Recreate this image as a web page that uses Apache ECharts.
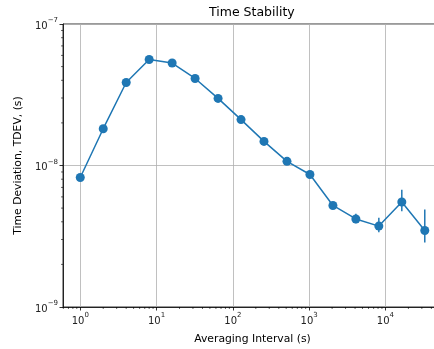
<!DOCTYPE html>
<html><head><meta charset="utf-8">
<script src="https://cdn.jsdelivr.net/npm/echarts@6/dist/echarts.min.js"></script>
<style>html,body{margin:0;padding:0;background:#fff}#c{width:434px;height:349px}</style>
</head><body><div id="c"></div>
<script>
const tau = [1, 2, 4, 8, 16, 32, 64, 128, 256, 512, 1024, 2048, 4096, 8192, 16384, 32768];
const tdev = [8.22e-9, 1.82e-8, 3.86e-8, 5.61e-8, 5.30e-8, 4.12e-8, 2.98e-8, 2.11e-8, 1.48e-8, 1.07e-8, 8.64e-9, 5.22e-9, 4.19e-9, 3.73e-9, 5.52e-9, 3.47e-9];
const tdevLow = [null, null, null, null, null, null, null, null, null, null, null, 5.0e-9, 3.91e-9, 3.38e-9, 4.75e-9, 2.86e-9];
const tdevHigh = [null, null, null, null, null, null, null, null, null, null, null, 5.45e-9, 4.56e-9, 4.27e-9, 6.73e-9, 4.89e-9];
const xMin = 0.594, xMax = 55100, yMin = 1e-9, yMax = 1e-7;
const xMinorTicks = [0.6, 0.7, 0.8, 0.9, 2, 3, 4, 5, 6, 7, 8, 9, 20, 30, 40, 50, 60, 70, 80, 90, 200, 300, 400, 500, 600, 700, 800, 900, 2000, 3000, 4000, 5000, 6000, 7000, 8000, 9000, 20000, 30000, 40000, 50000];
const yMinorTicks = [2e-9, 3e-9, 4e-9, 5e-9, 6e-9, 7e-9, 8e-9, 9e-9, 2e-8, 3e-8, 4e-8, 5e-8, 6e-8, 7e-8, 8e-8, 9e-8];

const FONT = 'DejaVu Sans';
const C = '#1f77b4';
function powLabel(v) {
  const e = Math.round(Math.log10(v));
  if (Math.abs(v / Math.pow(10, e) - 1) > 1e-6) return '';
  return '{b|10}{s|' + String(e).replace('-', '\u2212') + '}';
}
const rich = {
  b: {fontFamily: FONT, fontSize: 10, color: '#222', verticalAlign: 'bottom', lineHeight: 14},
  s: {fontFamily: FONT, fontSize: 7, color: '#222', verticalAlign: 'top', lineHeight: 14, padding: [0, 0, 7, 0]}
};

const chart = echarts.init(document.getElementById('c'), null, {renderer: 'canvas'});
const mainData = tau.map((t, i) => [t, tdev[i]]);
const errData = [];
tau.forEach((t, i) => { if (tdevLow[i] != null) errData.push([t, tdevLow[i], tdevHigh[i]]); });

chart.setOption({
  animation: false,
  backgroundColor: '#fff',
  title: {
    text: 'Time Stability', left: 204, top: 1,
    textStyle: {fontFamily: FONT, fontSize: 12.5, fontWeight: 'normal', color: '#000'}
  },
  grid: {left: 63, top: 24, width: 379, height: 283, containLabel: false, outerBoundsMode: 'none', show: true, borderColor: '#000', borderWidth: 0.8, backgroundColor: 'transparent'},
  xAxis: {
    type: 'log', logBase: 10, min: xMin, max: xMax,
    name: 'Averaging Interval (s)', nameLocation: 'middle', nameGap: 27,
    nameTextStyle: {fontFamily: FONT, fontSize: 10.8, color: '#000'},
    axisLine: {show: true, onZero: false, lineStyle: {color: '#000', width: 0.8}},
    axisTick: {show: true, length: 3.5, lineStyle: {color: '#000', width: 0.8}},
    axisLabel: {formatter: powLabel, rich: rich, margin: 5, showMinLabel: false, showMaxLabel: false},
    splitLine: {show: true, lineStyle: {color: '#b0b0b0', width: 0.8}},
    minorTick: {show: false}
  },
  yAxis: {
    type: 'log', logBase: 10, min: yMin, max: yMax,
    name: 'Time Deviation, TDEV, (s)', nameLocation: 'middle', nameGap: 38,
    nameTextStyle: {fontFamily: FONT, fontSize: 10.8, color: '#000'},
    axisLine: {show: true, onZero: false, lineStyle: {color: '#000', width: 0.8}},
    axisTick: {show: true, length: 3.5, lineStyle: {color: '#000', width: 0.8}},
    axisLabel: {formatter: powLabel, rich: rich, margin: 5},
    splitLine: {show: true, lineStyle: {color: '#b0b0b0', width: 0.8}},
    minorTick: {show: false}
  },
  series: [
    {
      type: 'custom', silent: true, clip: false, z: 5,
      data: xMinorTicks.map(v => [v, yMin]),
      renderItem: function (params, api) {
        const p = api.coord([api.value(0), api.value(1)]);
        return {type: 'line', shape: {x1: p[0], y1: p[1], x2: p[0], y2: p[1] + 2}, style: {stroke: '#000', lineWidth: 0.6}};
      }
    },
    {
      type: 'custom', silent: true, clip: false, z: 5,
      data: yMinorTicks.map(v => [xMin, v]),
      renderItem: function (params, api) {
        const p = api.coord([api.value(0), api.value(1)]);
        return {type: 'line', shape: {x1: p[0] - 2, y1: p[1], x2: p[0], y2: p[1]}, style: {stroke: '#000', lineWidth: 0.6}};
      }
    },
    {
      type: 'custom', silent: true, z: 3,
      data: errData,
      renderItem: function (params, api) {
        const a = api.coord([api.value(0), api.value(1)]);
        const b = api.coord([api.value(0), api.value(2)]);
        return {type: 'line', shape: {x1: a[0], y1: a[1], x2: b[0], y2: b[1]}, style: {stroke: C, lineWidth: 1.5}};
      }
    },
    {
      type: 'line', data: mainData, z: 4,
      symbol: 'circle', symbolSize: 9, showSymbol: true,
      itemStyle: {color: C},
      lineStyle: {color: C, width: 1.5}
    }
  ]
});
</script>
</body></html>
